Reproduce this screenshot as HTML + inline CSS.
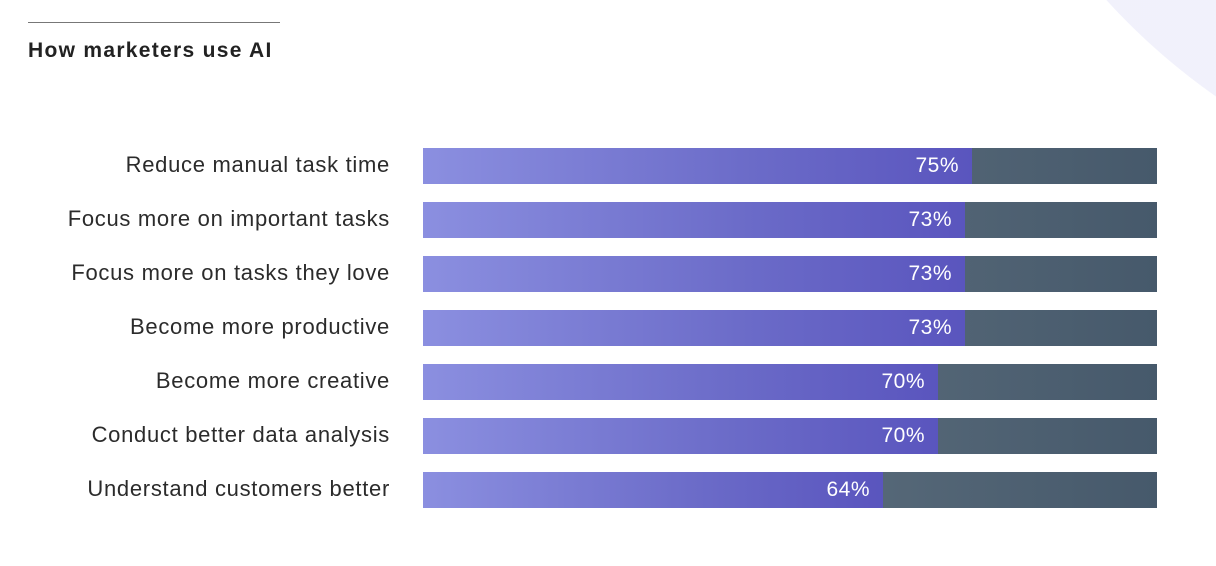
<!DOCTYPE html>
<html><head><style>
body{margin:0;width:1216px;height:566px;background:#fff;position:relative;overflow:hidden;font-family:"Liberation Sans",sans-serif;}
.arc{position:absolute;left:932px;top:-1118px;width:1336px;height:1336px;border-radius:50%;background:linear-gradient(90deg,#f0f0fb,#f6f6fd);}
.rule{position:absolute;left:28px;top:22px;width:252px;height:1px;background:#777;}
.title{position:absolute;left:28px;top:39px;font-weight:bold;font-size:21px;color:#222;letter-spacing:1.3px;}
.lab{position:absolute;right:826px;font-size:22px;letter-spacing:0.7px;color:#2b2b2b;line-height:36px;white-space:nowrap;}
.bar{position:absolute;left:423px;width:734px;height:36px;background:linear-gradient(90deg,#6e7f8c,#46596b);}
.fill{position:absolute;left:0;top:0;height:100%;background:linear-gradient(90deg,#8b8fe0,#6b6bc8 60%,#5a55be);}
.val{position:absolute;right:13px;top:0;line-height:36px;color:#fff;font-size:21px;letter-spacing:0.5px;}
</style></head><body>
<div class="arc"></div>
<div class="rule"></div>
<div class="title">How marketers use AI</div>

<div class="lab" style="top:147px">Reduce manual task time</div>
<div class="bar" style="top:148px"><div class="fill" style="width:549px"><span class="val">75%</span></div></div>

<div class="lab" style="top:201px">Focus more on important tasks</div>
<div class="bar" style="top:202px"><div class="fill" style="width:542px"><span class="val">73%</span></div></div>

<div class="lab" style="top:255px">Focus more on tasks they love</div>
<div class="bar" style="top:256px"><div class="fill" style="width:542px"><span class="val">73%</span></div></div>

<div class="lab" style="top:309px">Become more productive</div>
<div class="bar" style="top:310px"><div class="fill" style="width:542px"><span class="val">73%</span></div></div>

<div class="lab" style="top:363px">Become more creative</div>
<div class="bar" style="top:364px"><div class="fill" style="width:515px"><span class="val">70%</span></div></div>

<div class="lab" style="top:417px">Conduct better data analysis</div>
<div class="bar" style="top:418px"><div class="fill" style="width:515px"><span class="val">70%</span></div></div>

<div class="lab" style="top:471px">Understand customers better</div>
<div class="bar" style="top:472px"><div class="fill" style="width:460px"><span class="val">64%</span></div></div>
</body></html>
